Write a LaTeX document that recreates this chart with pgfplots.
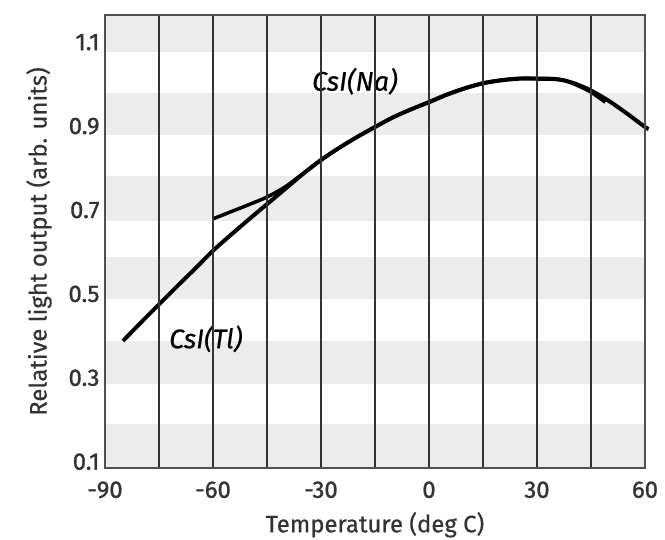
\documentclass[border=0pt]{standalone}
\usepackage{pgfplots}
\pgfplotsset{compat=1.18}
\usepackage{fontspec}
\setmainfont{Fira Sans}
\newfontfamily\tickfont[FakeBold=1.2]{Fira Sans}
\newfontfamily\labfont[FakeBold=0.5]{Fira Sans}
\definecolor{band}{HTML}{ECECEC}
\definecolor{frame}{HTML}{505050}
\definecolor{txt}{HTML}{333333}
\begin{document}
\begin{tikzpicture}
\begin{axis}[
  scale only axis,
  width=540bp, height=453bp,
  xmin=-90, xmax=60, ymin=0.085, ymax=1.165,
  xtick={-90,-60,...,60},
  minor xtick={-75,-45,-15,15,45},
  ytick={0.1,0.3,...,1.1},
  yticklabel style={/pgf/number format/fixed,/pgf/number format/fixed zerofill,/pgf/number format/precision=1},
  /pgf/number format/assume math mode=true,
  xmajorgrids, xminorgrids,
  major grid style={draw=txt, line width=1.1pt},
  minor grid style={draw=txt, line width=1.1pt},
  major tick length=0pt, minor tick length=0pt,
  axis line style={draw=frame, line width=2.8pt},
  tick label style={font=\fontsize{24}{28}\tickfont, text=txt},
  xticklabel style={yshift=-10bp},
  yticklabel style={xshift=-2bp},
  label style={font=\fontsize{24}{28}\labfont, text=txt},
  xlabel={Temperature (deg C)},
  ylabel={Relative light output (arb. units)},
  xlabel style={yshift=-7bp},
  ylabel style={yshift=10bp},
  clip=false,
  axis on top,
]
\addplot[draw=none, fill=band, forget plot] coordinates {(-90,0.087) (60,0.087) (60,0.19) (-90,0.19)} -- cycle;
\addplot[draw=none, fill=band, forget plot] coordinates {(-90,0.286) (60,0.286) (60,0.388) (-90,0.388)} -- cycle;
\addplot[draw=none, fill=band, forget plot] coordinates {(-90,0.488) (60,0.488) (60,0.588) (-90,0.588)} -- cycle;
\addplot[draw=none, fill=band, forget plot] coordinates {(-90,0.674) (60,0.674) (60,0.78) (-90,0.78)} -- cycle;
\addplot[draw=none, fill=band, forget plot] coordinates {(-90,0.88) (60,0.88) (60,0.98) (-90,0.98)} -- cycle;
\addplot[draw=none, fill=band, forget plot] coordinates {(-90,1.076) (60,1.076) (60,1.163) (-90,1.163)} -- cycle;
% CsI(Tl)
\addplot[black, line width=4pt, smooth] coordinates {
(-85,0.388) (-80,0.432) (-75,0.475) (-70,0.518) (-65,0.56) (-60,0.603)
(-55,0.641) (-50,0.678) (-45,0.714) (-40,0.75) (-35,0.786) (-30,0.819)
(-25,0.848) (-20,0.874) (-15,0.898) (-10,0.921) (-5,0.94) (0,0.957)
(5,0.975) (10,0.99) (15,1.002) (20,1.009) (25,1.013) (30,1.013)
(35,1.012) (38,1.008) (41,1.0) (45,0.985) (50,0.96) (55,0.93) (60,0.898) (61,0.893)};
% CsI(Na)
\addplot[black, line width=3.5pt, smooth] coordinates {
(-60,0.679) (-55,0.696) (-50,0.713) (-45,0.731) (-40,0.755) (-35,0.787) (-30,0.82)
(-25,0.848) (-20,0.874) (-15,0.898) (-10,0.921) (-5,0.94) (0,0.958)
(5,0.976) (10,0.991) (15,1.003) (20,1.01) (25,1.014) (30,1.014)
(35,1.013) (38,1.008) (41,0.998) (45,0.981) (49,0.957)};
\node[font=\fontsize{27}{30}\labfont\itshape, text=black] at (axis cs:-20.6,1.007) {CsI(Na)};
\node[font=\fontsize{27}{30}\labfont\itshape, text=black] at (axis cs:-62,0.393) {CsI(Tl)};
\end{axis}
\pgfresetboundingbox
\useasboundingbox (-105bp,-72bp) rectangle (560bp,468bp);
\end{tikzpicture}
\end{document}
